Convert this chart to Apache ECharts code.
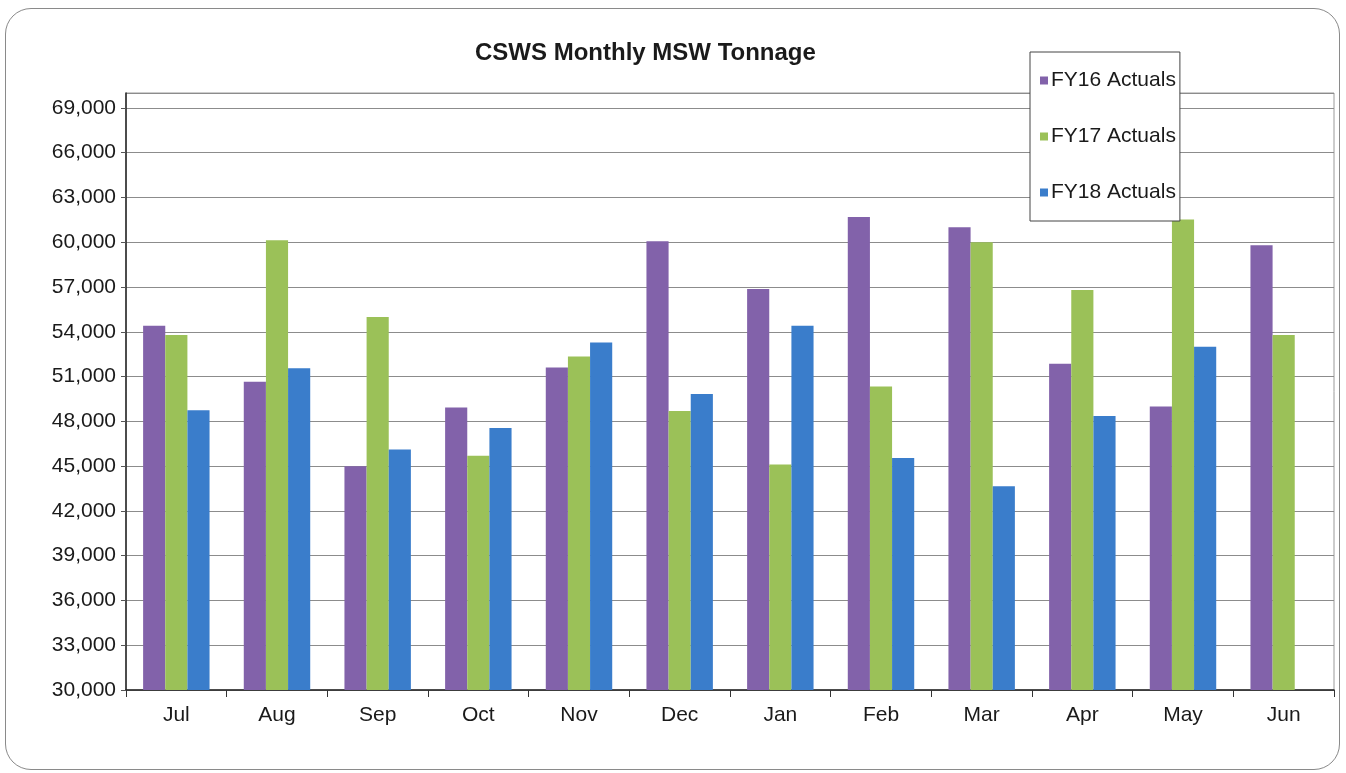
<!DOCTYPE html>
<html>
<head>
<meta charset="utf-8">
<script src="https://cdn.jsdelivr.net/npm/echarts@6/dist/echarts.min.js"></script>
<style>
  html, body { margin: 0; padding: 0; background: #fff; }
  #frame { position: absolute; left: 5px; top: 8px; width: 1333px; height: 760px;
           border: 1.5px solid #8a8a8a; border-radius: 26px; }
  #main { position: absolute; left: 0; top: 0; width: 1346px; height: 773px; }
</style>
</head>
<body>
<div id="frame"></div>
<div id="main"></div>
<script>
// months of the fiscal year
var months = ['Jul','Aug','Sep','Oct','Nov','Dec','Jan','Feb','Mar','Apr','May','Jun']
// tonnage
var fy16 = [54400,50660,45000,48920,51600,60070,56870,61700,61000,51860,49000,59800]
var fy17 = [53780,60130,55000,45690,52340,48690,45110,50330,60000,56800,61520,53780]
var fy18 = [48740,51560,46120,47550,53290,49830,54400,45540,43650,48360,53000,null]

var chart = echarts.init(document.getElementById('main'))
var font = 'Liberation Sans, Arial, sans-serif'

function bar(name, data, color){
  return {
    name: name,
    type: 'bar',
    data: data,
    barGap: '0%',
    barCategoryGap: '34%',
    itemStyle: { color: color }
  }
}

chart.setOption({
  animation: false,
  textStyle: { fontFamily: font },
  title: {
    text: 'CSWS Monthly MSW Tonnage',
    left: 470,
    top: 36,
    textStyle: { fontSize: 24, fontWeight: 'bold', color: '#1a1a1a', fontFamily: font }
  },
  legend: {
    orient: 'vertical',
    left: 1030,
    top: 52,
    padding: [18, 4, 18, 10],
    itemGap: 35,
    itemWidth: 8,
    itemHeight: 8,
    icon: 'rect',
    backgroundColor: '#fff',
    borderColor: '#444',
    borderWidth: 1,
    borderRadius: 0,
    textStyle: { fontSize: 21, color: '#1a1a1a', fontFamily: font, padding: [0, 0, 0, -2] },
    data: ['FY16 Actuals','FY17 Actuals','FY18 Actuals']
  },
  grid: {
    left: 126, right: 12, top: 93, bottom: 83,
    show: true, borderColor: '#9a9a9a', borderWidth: 1
  },
  xAxis: {
    type: 'category',
    data: months,
    axisLine: { lineStyle: { color: '#222', width: 1.5 } },
    axisTick: { show: true, length: 7, lineStyle: { color: '#333' } },
    axisLabel: { fontSize: 21, color: '#1a1a1a', margin: 15 }
  },
  yAxis: {
    type: 'value',
    min: 30000,
    max: 70000,
    interval: 3000,
    axisLine: { show: true, lineStyle: { color: '#222', width: 1.5 } },
    axisTick: { show: true, length: 5, lineStyle: { color: '#555' } },
    axisLabel: {
      fontSize: 21, color: '#1a1a1a', margin: 10, showMaxLabel: false,
      formatter: function(v){ return v.toLocaleString('en-US') }
    },
    splitLine: { lineStyle: { color: '#8c8c8c', width: 1.2 } }
  },
  series: [
    bar('FY16 Actuals', fy16, '#8262AA'),
    bar('FY17 Actuals', fy17, '#9BC158'),
    bar('FY18 Actuals', fy18, '#3A7DCB')
  ]
})
</script>
</body>
</html>
